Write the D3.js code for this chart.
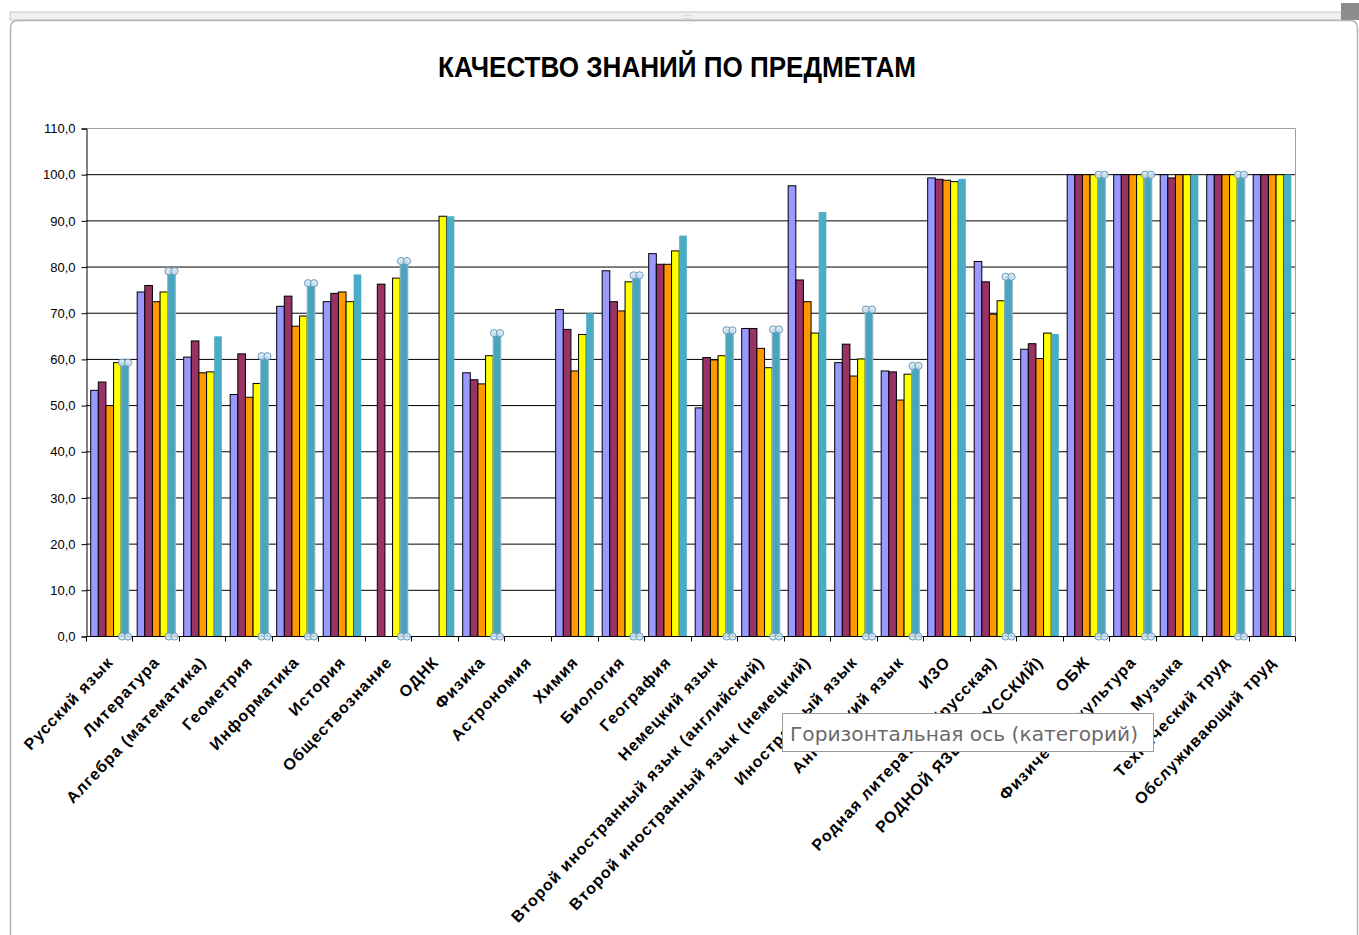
<!DOCTYPE html>
<html>
<head>
<meta charset="utf-8">
<script src="https://cdn.jsdelivr.net/npm/d3@7"></script>
<style>
  body { margin: 0; background: #fff; }
  text { font-family: "Liberation Sans", Arial, sans-serif; }
</style>
</head>
<body>
<div id="chart"></div>
<script>
// subjects (categories)
const subjects = [
  "Русский язык", "Литература", "Алгебра (математика)", "Геометрия", "Информатика",
  "История", "Обществознание", "ОДНК", "Физика", "Астрономия", "Химия", "Биология",
  "География", "Немецкий язык", "Второй иностранный  язык (английский)",
  "Второй иностранный  язык (немецкий)", "Иностранный  язык", "Английский  язык",
  "ИЗО", "Родная литература (русская)", "РОДНОЙ ЯЗЫК (РУССКИЙ)", "ОБЖ",
  "Физическая культура", "Музыка", "Технический труд", "Обслуживающий труд"
];

// five series (null = no bar)
const series1 = [53.3, 74.6, 60.5, 52.4, 71.5, 72.5, null, null, 57.1, null, 70.8, 79.2, 82.9, 49.5, 66.7, 97.6, 59.3, 57.5, 99.3, 81.2, 62.2, 100, 100, 100, 100, 100];
const series2 = [55.1, 76.0, 64.0, 61.2, 73.7, 74.3, 76.3, null, 55.6, null, 66.5, 72.5, 80.6, 60.4, 66.7, 77.2, 63.3, 57.3, 99.0, 76.8, 63.4, 100, 100, 99.3, 100, 100];
const series3 = [50.0, 72.5, 57.1, 51.8, 67.2, 74.6, null, null, 54.7, null, 57.5, 70.5, 80.6, 59.9, 62.4, 72.5, 56.4, 51.2, 98.8, 69.8, 60.2, 100, 100, 100, 100, 100];
const series4 = [59.3, 74.6, 57.3, 54.8, 69.4, 72.5, 77.6, 91.0, 60.8, null, 65.4, 76.8, 83.5, 60.8, 58.2, 65.7, 60.1, 56.8, 98.5, 72.7, 65.7, 100, 100, 100, 100, 100];
const series5 = [59.3, 79.1, 65.0, 60.7, 76.5, 78.4, 81.3, 91.0, 65.7, null, 70.0, 78.2, 86.8, 66.3, 66.5, 91.9, 70.8, 58.6, 99.1, 77.9, 65.5, 100, 100, 100, 100, 100];

const seriesColors = ["#9999ff", "#993366", "#ff9900", "#ffff00", "#4bacc6"];
// points of series 5 that show Excel's selection handles
const selectedPoints = [0, 1, 3, 4, 6, 8, 11, 13, 14, 16, 17, 19, 21, 22, 24];
const yTicks = [0, 10, 20, 30, 40, 50, 60, 70, 80, 90, 100, 110];

const width = 1359, height = 935;
const plot = {left: 86, right: 1295, top: 128, bottom: 636};

const svg = d3.select("#chart").append("svg")
  .attr("width", width)
  .attr("height", height);

// window frame around the chart
svg.append("rect").attr("x", 10).attr("y", 12).attr("width", 1333).attr("height", 8)
  .attr("fill", "#efefef").attr("stroke", "#c8c8c8");
svg.append("text").attr("x", 687).attr("y", 19).attr("text-anchor", "middle")
  .style("font-size", "7px").attr("fill", "#aaa").text("::::");
svg.append("rect").attr("x", 1341).attr("y", 3).attr("width", 18).attr("height", 17)
  .attr("fill", "#8c8c8c");
svg.append("path")
  .attr("d", "M10.5,935 V28 Q10.5,20.5 18,20.5 H1350 Q1357.5,20.5 1357.5,28 V935")
  .attr("fill", "#fff").attr("stroke", "#b4b4b4").attr("stroke-width", 1.5);

// title (the screenshot is slightly squeezed, so the title looks condensed)
svg.append("text")
  .attr("transform", "translate(677,77) scale(1,1.15)")
  .attr("text-anchor", "middle")
  .attr("textLength", 478).attr("lengthAdjust", "spacingAndGlyphs")
  .style("font-size", "26px").style("font-weight", "bold")
  .text("КАЧЕСТВО ЗНАНИЙ ПО ПРЕДМЕТАМ");

let y = d3.scaleLinear().domain([0, 110]).range([plot.bottom, plot.top]);

let x0 = d3.scaleBand()
  .domain(subjects)
  .range([plot.left, plot.right])
  .paddingInner(0.18)
  .paddingOuter(0.09);

let x1 = d3.scaleBand()
  .domain(d3.range(5))
  .range([0, x0.bandwidth()]);

// gridlines
svg.append("g").selectAll("line")
  .data(yTicks.slice(1, -1))
  .enter().append("line")
  .attr("x1", plot.left).attr("x2", plot.right)
  .attr("y1", d => y(d) + 0.5).attr("y2", d => y(d) + 0.5)
  .attr("stroke", "#000");

// plot area border (top / right)
svg.append("path")
  .attr("d", `M${plot.left},${plot.top + 0.5} H${plot.right + 0.5} V${plot.bottom}`)
  .attr("fill", "none").attr("stroke", "#a0a0a0");

// y axis
let yAxis = svg.append("g")
  .attr("transform", `translate(${plot.left + 0.5},0.5)`)
  .call(d3.axisLeft(y).tickValues(yTicks).tickSize(5).tickPadding(6)
    .tickFormat(d => d.toFixed(1).replace(".", ",")));
yAxis.select(".domain").attr("stroke", "#000");
yAxis.selectAll("text").style("font-size", "13px").style("font-family", "Liberation Sans, Arial, sans-serif").attr("fill", "#000");

// bars
const allSeries = [series1, series2, series3, series4, series5];
let groups = svg.append("g").selectAll("g")
  .data(subjects)
  .enter().append("g")
  .attr("transform", d => `translate(${x0(d)},0)`);

groups.selectAll("rect")
  .data((d, i) => allSeries.map((s, k) => ({k: k, i: i, v: s[i]})).filter(p => p.v !== null))
  .enter().append("rect")
  .attr("x", p => x1(p.k) + 0.5)
  .attr("y", p => y(p.v) + 0.5)
  .attr("width", x1.bandwidth())
  .attr("height", p => y(0) - y(p.v))
  .attr("fill", p => p.k === 4 && selectedPoints.includes(p.i) ? "#48a5bd" : seriesColors[p.k])
  .attr("stroke", p => p.k === 4 ? (selectedPoints.includes(p.i) ? "#8fb3c2" : "none") : "#000")
  .attr("stroke-width", 1);

// x axis line and boundary ticks
let xAxisG = svg.append("g").attr("transform", `translate(0,${plot.bottom + 0.5})`);
xAxisG.append("line").attr("x1", plot.left).attr("x2", plot.right)
  .attr("stroke", "#000");
const boundaries = subjects.map(s => x0(s) - x0.step() * x0.paddingInner() / 2).concat([plot.right]);
xAxisG.selectAll(".tk").data(boundaries).enter().append("line")
  .attr("x1", d => Math.round(d) + 0.5).attr("x2", d => Math.round(d) + 0.5)
  .attr("y1", 0).attr("y2", 5).attr("stroke", "#000");

// selection handles on series 5
let handles = svg.append("g");
selectedPoints.forEach(i => {
  let cx = x0(subjects[i]) + x1(4) + x1.bandwidth() / 2 + 0.5;
  [y(series5[i]), y(0)].forEach(cy => {
    [-3, 3].forEach(dx => {
      handles.append("circle")
        .attr("cx", cx + dx).attr("cy", cy + 0.5).attr("r", 3.6)
        .attr("fill", "#d3e6f3").attr("fill-opacity", 0.85)
        .attr("stroke", "#6f9bbb").attr("stroke-width", 1);
    });
  });
});

// category labels
svg.append("g").selectAll("text")
  .data(subjects)
  .enter().append("text")
  .attr("transform", d => `translate(${x0(d) + x0.bandwidth() / 2 + 5},${plot.bottom + 27}) rotate(-46.5)`)
  .attr("text-anchor", "end")
  .style("font-size", "16px").style("font-weight", "bold")
  .style("letter-spacing", "1.1px")
  .text(d => d);

// tooltip
let tip = svg.append("g").attr("transform", "translate(782,713)");
tip.append("rect").attr("x", 0.5).attr("y", 0.5).attr("width", 371).attr("height", 38)
  .attr("fill", "#fff").attr("stroke", "#9a9a9a");
tip.append("text").attr("x", 8).attr("y", 28)
  .attr("textLength", 348).attr("lengthAdjust", "spacingAndGlyphs")
  .style("font-family", "DejaVu Sans, sans-serif").style("font-size", "19px")
  .attr("fill", "#6a6a6a")
  .text("Горизонтальная ось (категорий)");
</script>
</body>
</html>
